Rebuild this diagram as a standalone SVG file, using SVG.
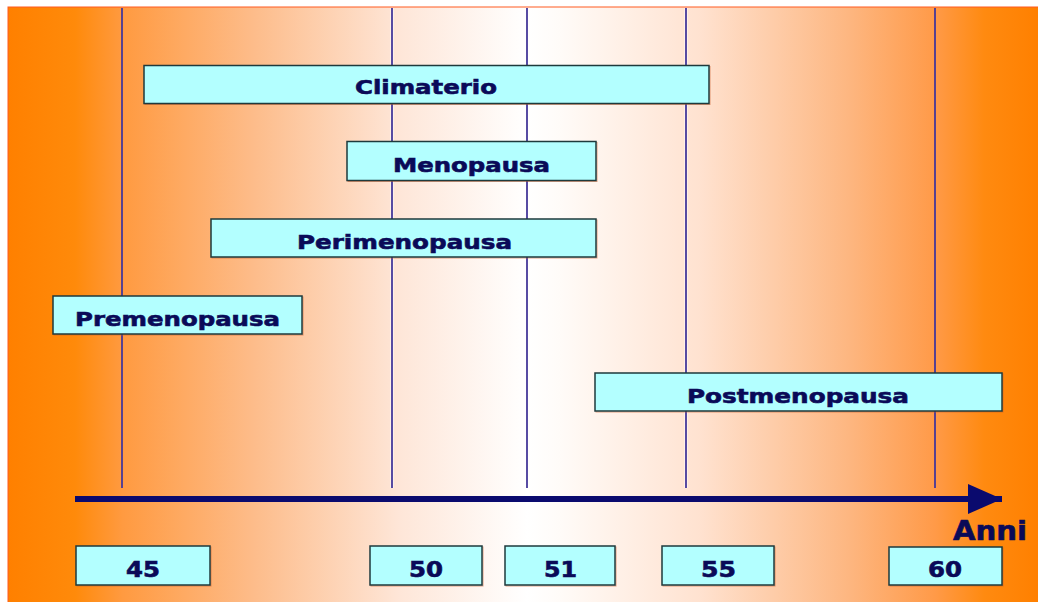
<svg xmlns="http://www.w3.org/2000/svg" width="1038" height="602" viewBox="0 0 1038 602">
  <style>
    .box { fill: #B3FFFF; stroke: #1E3A3C; stroke-width: 1.5; }
    .shadow { fill: none; stroke: #C85A28; stroke-width: 1; opacity: 0.55; }
    .lbl { font-family: "DejaVu Sans", Verdana, sans-serif; font-weight: bold; fill: #0A0A58; stroke: #0A0A58; stroke-width: 0.6; text-anchor: start; }
    .big { font-size: 20px; }
    .num { font-size: 21px; }
    .grid { stroke: #45389A; stroke-width: 1.8; }
    .halo { stroke: #FFFFFF; stroke-width: 4; opacity: 0.45; }
  </style>
  <defs>
    <linearGradient id="bg" gradientUnits="userSpaceOnUse" x1="8" y1="0" x2="1038" y2="0">
      <stop offset="0" stop-color="#FF8000"/>
      <stop offset="0.065" stop-color="#FF8A0A"/>
      <stop offset="0.111" stop-color="#FF9A40"/>
      <stop offset="0.235" stop-color="#FDBB88"/>
      <stop offset="0.38" stop-color="#FEE6D8"/>
      <stop offset="0.504" stop-color="#FFFFFF"/>
      <stop offset="0.536" stop-color="#FFFBF8"/>
      <stop offset="0.672" stop-color="#FFE2D0"/>
      <stop offset="0.817" stop-color="#FDB680"/>
      <stop offset="0.9" stop-color="#FF9A48"/>
      <stop offset="0.948" stop-color="#FF8A10"/>
      <stop offset="1" stop-color="#FF8000"/>
    </linearGradient>
    <marker id="arrowhead" markerUnits="userSpaceOnUse" markerWidth="36" markerHeight="30" refX="34" refY="15" orient="auto">
      <polygon points="0,0 34,15 0,30" fill="#0A0A6E"/>
    </marker>
  </defs>

  <rect x="0" y="0" width="1038" height="602" fill="#FFFFFF"/>
  <rect x="8" y="7" width="1031" height="596" fill="url(#bg)" stroke="#FF5A20" stroke-width="1"/>

  <g id="gridlines">
    <line class="halo" x1="392" y1="8" x2="392" y2="488"/>
    <line class="halo" x1="527" y1="8" x2="527" y2="488"/>
    <line class="halo" x1="686" y1="8" x2="686" y2="488"/>
    <line class="grid" x1="122" y1="8" x2="122" y2="488" stroke="#5A3A7A"/>
    <line class="grid" x1="392" y1="8" x2="392" y2="488"/>
    <line class="grid" x1="527" y1="8" x2="527" y2="488"/>
    <line class="grid" x1="686" y1="8" x2="686" y2="488"/>
    <line class="grid" x1="935" y1="8" x2="935" y2="488" stroke="#3A3068"/>
  </g>

  <g id="connectors">
    <line x1="75" y1="499" x2="1002" y2="499" stroke="#0A0A6E" stroke-width="6" marker-end="url(#arrowhead)"/>
  </g>

  <g id="climaterio">
    <rect class="shadow" x="145" y="66.5" width="565" height="38"/>
    <rect class="box" x="144" y="65.5" width="565" height="38"/>
    <text class="lbl big" x="355" y="94" textLength="142" lengthAdjust="spacingAndGlyphs">Climaterio</text>
  </g>

  <g id="menopausa">
    <rect class="shadow" x="348" y="142.5" width="249" height="39"/>
    <rect class="box" x="347" y="141.5" width="249" height="39"/>
    <text class="lbl big" x="393" y="172" textLength="157" lengthAdjust="spacingAndGlyphs">Menopausa</text>
  </g>

  <g id="perimenopausa">
    <rect class="shadow" x="212" y="220" width="385" height="38"/>
    <rect class="box" x="211" y="219" width="385" height="38"/>
    <text class="lbl big" x="297" y="249" textLength="215" lengthAdjust="spacingAndGlyphs">Perimenopausa</text>
  </g>

  <g id="premenopausa">
    <rect class="shadow" x="54" y="297" width="249" height="38"/>
    <rect class="box" x="53" y="296" width="249" height="38"/>
    <text class="lbl big" x="75" y="326" textLength="205" lengthAdjust="spacingAndGlyphs">Premenopausa</text>
  </g>

  <g id="postmenopausa">
    <rect class="shadow" x="596" y="374" width="407" height="38"/>
    <rect class="box" x="595" y="373" width="407" height="38"/>
    <text class="lbl big" x="687" y="403" textLength="222" lengthAdjust="spacingAndGlyphs">Postmenopausa</text>
  </g>

  <g id="anni">
    <text class="lbl" x="953" y="540" font-size="27" textLength="74" lengthAdjust="spacingAndGlyphs">Anni</text>
  </g>

  <g id="year45">
    <rect class="shadow" x="77" y="547" width="134" height="39"/>
    <rect class="box" x="76" y="546" width="134" height="39"/>
    <text class="lbl num" x="126" y="577" textLength="34" lengthAdjust="spacingAndGlyphs">45</text>
  </g>
  <g id="year50">
    <rect class="shadow" x="371" y="547" width="112" height="39"/>
    <rect class="box" x="370" y="546" width="112" height="39"/>
    <text class="lbl num" x="409" y="577" textLength="34" lengthAdjust="spacingAndGlyphs">50</text>
  </g>
  <g id="year51">
    <rect class="shadow" x="506" y="547" width="110" height="39"/>
    <rect class="box" x="505" y="546" width="110" height="39"/>
    <text class="lbl num" x="544" y="577" textLength="33" lengthAdjust="spacingAndGlyphs">51</text>
  </g>
  <g id="year55">
    <rect class="shadow" x="663" y="547" width="112" height="39"/>
    <rect class="box" x="662" y="546" width="112" height="39"/>
    <text class="lbl num" x="701" y="577" textLength="35" lengthAdjust="spacingAndGlyphs">55</text>
  </g>
  <g id="year60">
    <rect class="shadow" x="890" y="548" width="113" height="38"/>
    <rect class="box" x="889" y="547" width="113" height="38"/>
    <text class="lbl num" x="928" y="577" textLength="34" lengthAdjust="spacingAndGlyphs">60</text>
  </g>
</svg>
